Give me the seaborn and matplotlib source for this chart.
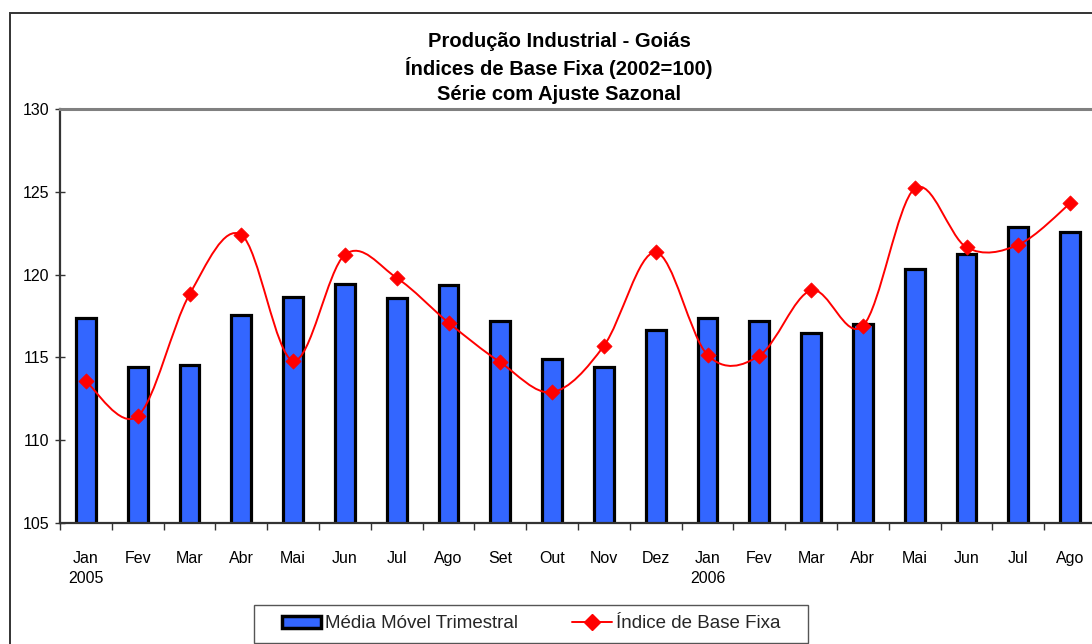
import numpy as np
import pandas as pd
import matplotlib
matplotlib.use("Agg")
import matplotlib.pyplot as plt
from matplotlib.path import Path
from matplotlib.patches import PathPatch, Rectangle
from matplotlib.lines import Line2D
from matplotlib.ticker import FixedLocator
import seaborn as sns

# Monthly categories (Jan/2005 to Ago/2006)
months = ["Jan", "Fev", "Mar", "Abr", "Mai", "Jun", "Jul", "Ago", "Set", "Out",
          "Nov", "Dez", "Jan", "Fev", "Mar", "Abr", "Mai", "Jun", "Jul", "Ago"]
year_marks = {0: "2005", 12: "2006"}

# Three-month moving average (bars)
media_movel = [117.4, 114.4, 114.55, 117.55, 118.65, 119.45, 118.6, 119.35, 117.2, 114.9,
               114.4, 116.65, 117.4, 117.2, 116.45, 117.0, 120.35, 121.25, 122.85, 122.6]
# Fixed-base index, seasonally adjusted (line)
indice = [113.55, 111.45, 118.8, 122.4, 114.8, 121.2, 119.8, 117.1, 114.7, 112.9,
          115.7, 121.35, 115.15, 115.1, 119.05, 116.9, 125.2, 121.65, 121.8, 124.3]

y_ticks = [105, 110, 115, 120, 125, 130]

title_lines = ["Produção Industrial - Goiás",
               "Índices de Base Fixa (2002=100)",
               "Série com Ajuste Sazonal"]
legend_labels = ["Média Móvel Trimestral", "Índice de Base Fixa"]

BAR_BLUE = "#3366FF"
LINE_RED = "#FF0000"

sns.set_style("white")
plt.rcParams["font.family"] = ["Liberation Sans", "DejaVu Sans"]

W, H = 1092, 644
fig = plt.figure(figsize=(W / 100, H / 100), dpi=100)
fig.patch.set_facecolor("white")

# plot area in pixel terms -> figure fractions
left_px, right_px, top_px, bottom_px = 60, 1096, 109, 523
ax = fig.add_axes([left_px / W, 1 - bottom_px / H,
                   (right_px - left_px) / W, (bottom_px - top_px) / H])

df = pd.DataFrame({"pos": np.arange(len(months)), "media": media_movel, "indice": indice})

sns.barplot(data=df, x="pos", y="media", color=BAR_BLUE, saturation=1,
            width=0.38, edgecolor="black", linewidth=2.3, ax=ax, zorder=2)


def smooth_path(xs, ys):
    """Cubic Bezier path through the points (Catmull-Rom style smoothing)."""
    n = len(xs)
    verts = [(xs[0], ys[0])]
    codes = [Path.MOVETO]
    for i in range(n - 1):
        a = i - 1 if i > 0 else i
        d = i + 2 if i + 2 < n else i + 1
        c1 = (xs[i] + (xs[i + 1] - xs[a]) / 6.0, ys[i] + (ys[i + 1] - ys[a]) / 6.0)
        c2 = (xs[i + 1] - (xs[d] - xs[i]) / 6.0, ys[i + 1] - (ys[d] - ys[i]) / 6.0)
        verts += [c1, c2, (xs[i + 1], ys[i + 1])]
        codes += [Path.CURVE4] * 3
    return Path(verts, codes)


curve = PathPatch(smooth_path(list(df["pos"].astype(float)), list(df["indice"])),
                  fill=False, edgecolor=LINE_RED, linewidth=1.4, zorder=3)
ax.add_patch(curve)

sns.scatterplot(data=df, x="pos", y="indice", marker="D", s=60, color=LINE_RED,
                edgecolor=LINE_RED, linewidth=0.5, ax=ax, zorder=4, legend=False)

ax.set_xlim(-0.5, len(months) - 0.5)
ax.set_ylim(105, 130)
ax.set_xlabel("")
ax.set_ylabel("")

# y axis
ax.set_yticks(y_ticks)
ax.set_yticklabels([str(v) for v in y_ticks], fontsize=11.5)
ax.tick_params(axis="y", direction="inout", length=7, width=1, color="#333333", pad=4,
               left=True, labelcolor="black")

# x axis: labels at category centres, tick marks between categories
labels = [m + ("\n" + year_marks[i] if i in year_marks else "") for i, m in enumerate(months)]
ax.set_xticks(np.arange(len(months)))
ax.set_xticklabels(labels, fontsize=11.5, linespacing=1.45, va="top", color="black")
ax.tick_params(axis="x", which="major", length=0, pad=20)
ax.xaxis.set_minor_locator(FixedLocator(np.arange(-0.5, len(months), 1.0)))
ax.tick_params(axis="x", which="minor", direction="out", length=5, width=1,
               color="#333333", bottom=True)

for s in ["left", "bottom"]:
    ax.spines[s].set_color("#333333")
    ax.spines[s].set_linewidth(1.6)
ax.spines["top"].set_color("#808080")
ax.spines["top"].set_linewidth(2.2)
ax.spines["right"].set_visible(False)
ax.grid(False)

# chart-area frame
fig.patches.append(Rectangle((10 / W, -0.1), 1.2, 1 - 13 / H + 0.1, transform=fig.transFigure,
                             fill=False, edgecolor="#333333", linewidth=1.4, clip_on=False))

# titles
for line, base in zip(title_lines, [47, 75, 100]):
    fig.text(559 / W, 1 - base / H, line, ha="center", va="baseline",
             fontsize=14.5, fontweight="bold", color="black")

# legend
fig.patches.append(Rectangle((254 / W, 1 - 643 / H), (808 - 254) / W, (643 - 605) / H,
                             transform=fig.transFigure, fill=False, edgecolor="#555555",
                             linewidth=1.0))
bar_handle = Rectangle((0, 0), 1, 1, facecolor=BAR_BLUE, edgecolor="black", linewidth=2.5)
line_handle = Line2D([0], [0], color=LINE_RED, linewidth=1.4, marker="D", markersize=8)
fig.legend([bar_handle, line_handle], legend_labels, loc="center",
           bbox_to_anchor=(531 / W, 1 - 624 / H), ncol=2, frameon=False,
           fontsize=13.5, handlelength=2.1, handleheight=0.6, handletextpad=0.2,
           columnspacing=2.9)

fig.savefig("out.png", dpi=100)
